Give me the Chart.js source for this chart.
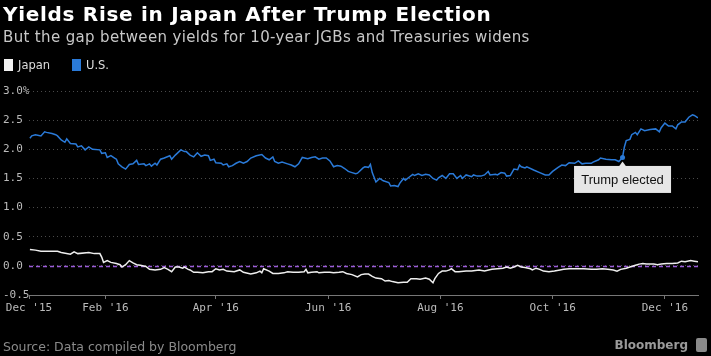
<!DOCTYPE html>
<html><head><meta charset="utf-8">
<script src="https://cdn.jsdelivr.net/npm/chart.js@4.4.1/dist/chart.umd.min.js"></script>
<style>
html,body{margin:0;padding:0;background:#000;}
#wrap{position:relative;width:711px;height:356px;background:#000;overflow:hidden;}
#c{position:absolute;left:0;top:0;}
.t{position:absolute;white-space:nowrap;}
#title{left:3px;top:4px;font:bold 20px/20px "DejaVu Sans";letter-spacing:0.7px;color:#fff;}
#sub{left:3px;top:30px;font:15px/15px "DejaVu Sans";letter-spacing:0.35px;color:#c8c8c8;}
.leg{top:59px;font:11.5px/12px "DejaVu Sans";color:#ddd;}
.sw{display:inline-block;width:9px;height:12px;vertical-align:top;margin-right:5px;}
#src{left:3px;top:340px;font:12.5px/13px "DejaVu Sans";color:#8a8a8a;}
#brand{right:23px;top:339px;font:bold 12px/13px "DejaVu Sans";color:#9a9a9a;}
#icon{left:696px;top:338px;width:11px;height:14px;background:#8a8a8a;border-radius:2px;}
</style></head>
<body>
<div id="wrap">
<canvas id="c" width="711" height="356"></canvas>
<div class="t" id="title">Yields Rise in Japan After Trump Election</div>
<div class="t" id="sub">But the gap between yields for 10-year JGBs and Treasuries widens</div>
<div class="t leg" style="left:4px"><span class="sw" style="background:#f2f2f2"></span>Japan</div>
<div class="t leg" style="left:72px"><span class="sw" style="background:#2a7ad8"></span>U.S.</div>
<div class="t" id="src">Source: Data compiled by Bloomberg</div>
<div class="t" id="brand">Bloomberg</div>
<div class="t" id="icon"></div>
</div>
<script>
// x values: days since Jan 1, 2016
const xMin = -10.5, xMax = 353;
const tickDays = [-10.5, 31, 91, 152, 213, 274, 335];
const tickLabels = ["Dec '15", "Feb '16", "Apr '16", "Jun '16", "Aug '16", "Oct '16", "Dec '16"];

const usDays = [
 -10,-9,-7,-4,-2,-1,2,4,5,7,
 9,10,12,15,16,18,20,22,24,28,
 29,31,32,34,36,37,38,40,42,44,
 46,48,49,52,53,55,56,58,59,61,
 63,66,67,69,72,74,75,77,79,81,
 83,85,87,88,90,91,94,95,97,98,
 100,102,104,106,108,110,113,116,118,120,
 122,123,125,127,130,132,134,136,138,141,
 143,145,147,149,151,153,155,157,159,161,
 163,165,167,168,171,172,174,175,176,178,
 180,182,185,186,188,190,191,193,194,196,
 198,199,201,203,205,207,209,211,212,214,
 216,218,220,222,224,225,227,230,231,233,
 235,237,239,240,243,244,246,248,249,251,
 253,255,256,257,259,260,264,267,270,272,
 274,277,279,281,283,286,288,290,292,295,
 296,299,300,303,306,308,310,312,313,314,
 316,317,319,320,322,324,327,330,332,333,
 335,337,339,341,342,344,346,348,350,351,
 353];
const usYield = [
 2.19,2.23,2.25,2.23,2.30,2.29,2.27,2.25,2.23,2.16,
 2.12,2.18,2.10,2.09,2.04,2.06,1.99,2.04,2.00,1.99,
 1.93,1.94,1.86,1.89,1.85,1.83,1.75,1.70,1.66,1.74,
 1.75,1.81,1.74,1.75,1.72,1.75,1.71,1.76,1.73,1.83,
 1.85,1.89,1.83,1.90,1.99,1.96,1.96,1.90,1.87,1.94,
 1.88,1.90,1.89,1.81,1.83,1.77,1.76,1.73,1.75,1.70,
 1.72,1.76,1.79,1.76,1.79,1.85,1.89,1.91,1.85,1.82,
 1.87,1.79,1.76,1.78,1.75,1.73,1.70,1.75,1.86,1.84,
 1.86,1.87,1.83,1.85,1.85,1.80,1.70,1.72,1.71,1.67,
 1.62,1.60,1.58,1.59,1.68,1.70,1.69,1.74,1.60,1.44,
 1.50,1.46,1.43,1.37,1.38,1.36,1.42,1.50,1.47,1.52,
 1.57,1.55,1.58,1.55,1.57,1.56,1.50,1.47,1.51,1.55,
 1.50,1.58,1.58,1.50,1.55,1.50,1.56,1.53,1.56,1.54,
 1.54,1.56,1.62,1.56,1.57,1.56,1.60,1.59,1.54,1.55,
 1.66,1.65,1.73,1.70,1.68,1.70,1.64,1.60,1.56,1.56,
 1.62,1.69,1.73,1.72,1.77,1.76,1.80,1.75,1.76,1.76,
 1.78,1.82,1.85,1.83,1.82,1.82,1.79,1.86,2.04,2.15,
 2.17,2.25,2.29,2.25,2.35,2.32,2.34,2.35,2.30,2.37,
 2.45,2.40,2.40,2.35,2.42,2.47,2.47,2.55,2.59,2.58,
 2.54];

const jpDays = [
 -10,-7,-4,5,7,12,14,16,22,25,
 28,29,30,32,34,37,39,40,42,44,
 46,48,50,53,55,58,61,63,65,67,
 69,71,73,74,76,77,79,81,84,87,
 89,91,93,95,97,101,104,106,110,113,
 115,116,117,120,122,125,128,130,133,136,
 139,140,141,143,146,147,150,153,155,158,
 160,162,165,168,170,172,174,176,178,181,
 183,185,187,190,193,195,197,200,202,205,
 207,209,210,212,214,216,218,219,221,223,
 227,230,234,237,241,244,247,249,251,253,
 255,257,259,262,263,265,267,269,272,275,
 278,280,283,287,291,295,298,301,304,307,
 309,311,314,316,319,321,323,325,329,331,
 333,336,339,342,344,346,349,351,353];
const jpYield = [
 0.28,0.27,0.25,0.25,0.23,0.20,0.24,0.21,0.23,0.21,
 0.21,0.15,0.06,0.09,0.06,0.04,0.02,-0.02,0.02,0.09,
 0.05,0.02,0.01,-0.01,-0.06,-0.07,-0.06,-0.03,-0.06,-0.10,
 -0.02,-0.02,-0.04,-0.02,-0.06,-0.07,-0.11,-0.11,-0.12,-0.10,
 -0.10,-0.05,-0.07,-0.06,-0.09,-0.10,-0.07,-0.11,-0.14,-0.12,
 -0.09,-0.12,-0.05,-0.09,-0.13,-0.13,-0.12,-0.10,-0.11,-0.11,
 -0.10,-0.06,-0.12,-0.11,-0.10,-0.12,-0.11,-0.11,-0.12,-0.11,
 -0.10,-0.13,-0.15,-0.19,-0.15,-0.14,-0.14,-0.18,-0.21,-0.22,
 -0.26,-0.25,-0.27,-0.29,-0.28,-0.28,-0.22,-0.22,-0.23,-0.21,
 -0.23,-0.29,-0.22,-0.13,-0.09,-0.09,-0.07,-0.05,-0.10,-0.10,
 -0.09,-0.09,-0.07,-0.09,-0.06,-0.05,-0.04,-0.02,-0.04,-0.02,
 0.01,-0.02,-0.03,-0.05,-0.07,-0.04,-0.06,-0.09,-0.10,-0.09,
 -0.07,-0.06,-0.05,-0.05,-0.05,-0.06,-0.06,-0.05,-0.06,-0.07,
 -0.09,-0.06,-0.04,-0.02,0.01,0.03,0.04,0.03,0.03,0.02,
 0.03,0.04,0.04,0.05,0.08,0.07,0.09,0.08,0.07];

const electionDay = 312;
const electionLabel = "Trump elected";

const US_COLOR = '#2a7ad8';
const JP_COLOR = '#eeeeee';

const zeroLine = {
  id: 'zeroLine',
  beforeDatasetsDraw(chart) {
    const {ctx, chartArea, scales: {y}} = chart;
    const y0 = Math.round(y.getPixelForValue(0)) + 0.5;
    ctx.save();
    ctx.strokeStyle = '#9b5cd9';
    ctx.lineWidth = 1.5;
    ctx.setLineDash([4, 3]);
    ctx.beginPath();
    ctx.moveTo(chartArea.left, y0);
    ctx.lineTo(chartArea.right, y0);
    ctx.stroke();
    ctx.restore();
  }
};

const note = {
  id: 'electionNote',
  afterDatasetsDraw(chart) {
    const {ctx, scales: {x, y}} = chart;
    const i = usDays.indexOf(electionDay);
    const px = x.getPixelForValue(electionDay);
    const py = y.getPixelForValue(usYield[i]);
    ctx.save();
    ctx.fillStyle = US_COLOR;
    ctx.beginPath(); ctx.arc(px, py, 2.5, 0, Math.PI * 2); ctx.fill();
    const w = 97, h = 27, bx = px - 48.5, by = py + 8.5;
    ctx.fillStyle = '#e6e6e6';
    ctx.beginPath();
    ctx.moveTo(px, py + 4);
    ctx.lineTo(px + 4, by + 1);
    ctx.lineTo(px - 4, by + 1);
    ctx.closePath(); ctx.fill();
    ctx.fillRect(bx, by, w, h);
    ctx.fillStyle = '#111';
    ctx.font = '13px "Liberation Sans"';
    ctx.textAlign = 'center';
    ctx.textBaseline = 'middle';
    ctx.fillText(electionLabel, px, by + h / 2 + 0.5);
    ctx.restore();
  }
};

const axisFont = {family: 'DejaVu Sans Mono', size: 11};

new Chart(document.getElementById('c'), {
  type: 'line',
  data: {
    datasets: [
      {label: 'Japan', data: jpDays.map((d, i) => ({x: d, y: jpYield[i]})),
       borderColor: JP_COLOR, backgroundColor: JP_COLOR, borderWidth: 1.5, pointRadius: 0, tension: 0},
      {label: 'U.S.', data: usDays.map((d, i) => ({x: d, y: usYield[i]})),
       borderColor: US_COLOR, backgroundColor: US_COLOR, borderWidth: 1.5, pointRadius: 0, tension: 0}
    ]
  },
  options: {
    responsive: false, animation: false, devicePixelRatio: 1,
    layout: {padding: {left: 3, right: 13, top: 91, bottom: 39}},
    plugins: {legend: {display: false}, tooltip: {enabled: false}},
    scales: {
      x: {
        type: 'linear', min: xMin, max: xMax,
        afterBuildTicks: s => { s.ticks = tickDays.map(v => ({value: v})); },
        afterFit: s => { s.height = 22; },
        ticks: {autoSkip: false, maxRotation: 0, padding: 3, color: '#bbb', font: axisFont,
                callback: (v, i) => tickLabels[i]},
        grid: {drawOnChartArea: false, drawTicks: true, tickLength: 4, color: '#777'},
        border: {display: true, color: '#777'}
      },
      y: {
        min: -0.5, max: 3,
        afterFit: s => { s.width = 26; },
        ticks: {stepSize: 0.5, crossAlign: 'far', padding: 0, color: '#bbb', font: axisFont,
                callback: v => v === 3 ? '3.0%' : v.toFixed(1)},
        grid: {drawTicks: false, lineWidth: 1,
               color: c => (c.tick && c.tick.value === -0.5) ? 'rgba(0,0,0,0)' : '#4a4a4a'},
        border: {display: false, dash: [1, 3]}
      }
    }
  },
  plugins: [zeroLine, note]
});
</script>
</body></html>
